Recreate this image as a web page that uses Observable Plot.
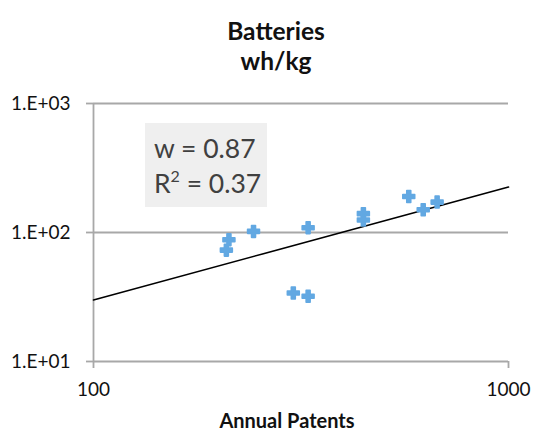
<!DOCTYPE html>
<html>
<head>
<meta charset="utf-8">
<script src="https://cdn.jsdelivr.net/npm/d3@7"></script>
<script src="https://cdn.jsdelivr.net/npm/@observablehq/plot@0.6"></script>
<style>
  html, body { margin: 0; padding: 0; background: #fff; }
  #wrap { position: relative; width: 534px; height: 439px; font-family: Lato, "Open Sans", sans-serif; }
  #title { height: 78px; text-align: center; font-weight: bold; font-size: 24.5px; line-height: 30px; color: #111; padding-top: 16px; box-sizing: border-box; padding-left: 18px; }
  #note { position: absolute; left: 145px; top: 123px; width: 122px; height: 84px; background: #efefef; color: #404040; font-size: 26.5px; line-height: 35px; box-sizing: border-box; padding: 8px 0 0 9px; white-space: nowrap; }
  #note sup { font-size: 16px; line-height: 0; vertical-align: 0; position: relative; top: -11px; }
</style>
</head>
<body>
<div id="wrap">
  <div id="title">Batteries<br>wh/kg</div>
  <div id="chart"></div>
  <div id="note"></div>
</div>
<script>
// Data (Annual Patents vs wh/kg)
const patents = [212, 209, 243, 329, 303, 329, 447, 447, 575, 623, 673];
const whkg    = [88, 73, 102, 109, 34, 32, 140, 125, 190, 150, 172];
// Fitted power-law trend line endpoints (w = 0.87)
const trendX = [100, 1000];
const trendY = [30, 225];
const xTicks = [100, 1000];
const yTicks = [10, 100, 1000];
const xLabel = "Annual Patents";
const noteW = "0.87";
const noteR2 = "0.37";

const points = patents.map((p, i) => ({x: p, y: whkg[i]}));
const trend = trendX.map((x, i) => ({x, y: trendY[i]}));
const gray = "#a8a8a8";

const chart = Plot.plot({
  width: 534,
  height: 361,
  marginTop: 25,
  marginBottom: 78,
  marginLeft: 93,
  marginRight: 26,
  style: { fontFamily: "Lato, 'Open Sans', sans-serif", fontSize: "19px", color: "#111", background: "transparent" },
  x: { type: "log", domain: [100, 1000] },
  y: { type: "log", domain: [10, 1000] },
  marks: [
    Plot.ruleY(yTicks, { stroke: gray, strokeWidth: 1.8, strokeOpacity: 1 }),
    Plot.ruleX([xTicks[0]], { stroke: gray, strokeWidth: 1.8, strokeOpacity: 1 }),
    Plot.axisY({ ticks: yTicks, tickFormat: d => "1.E+" + String(Math.round(Math.log10(d))).padStart(2, "0"), tickSize: 7, tickPadding: 16, stroke: gray, strokeWidth: 1.8, strokeOpacity: 1, label: null }),
    Plot.axisX({ ticks: xTicks, tickFormat: d => String(d), tickSize: 7, tickPadding: 14, stroke: gray, strokeWidth: 1.8, strokeOpacity: 1, label: null }),
    Plot.text([xLabel], { text: d => d, frameAnchor: "bottom", dx: -14, dy: 66, fontWeight: "bold", fontSize: 20, fill: "#111" }),
    Plot.line(trend, { x: "x", y: "y", stroke: "#000", strokeWidth: 1.6 }),
    Plot.dot(points, { x: "x", y: "y", symbol: "cross", r: 5, fill: "#62a8e2", stroke: "#62a8e2", strokeWidth: 1.6, strokeLinejoin: "round" })
  ]
});
document.getElementById("chart").appendChild(chart);
document.getElementById("note").innerHTML = "w = " + noteW + "<br>R<sup>2</sup> = " + noteR2;
</script>
</body>
</html>
